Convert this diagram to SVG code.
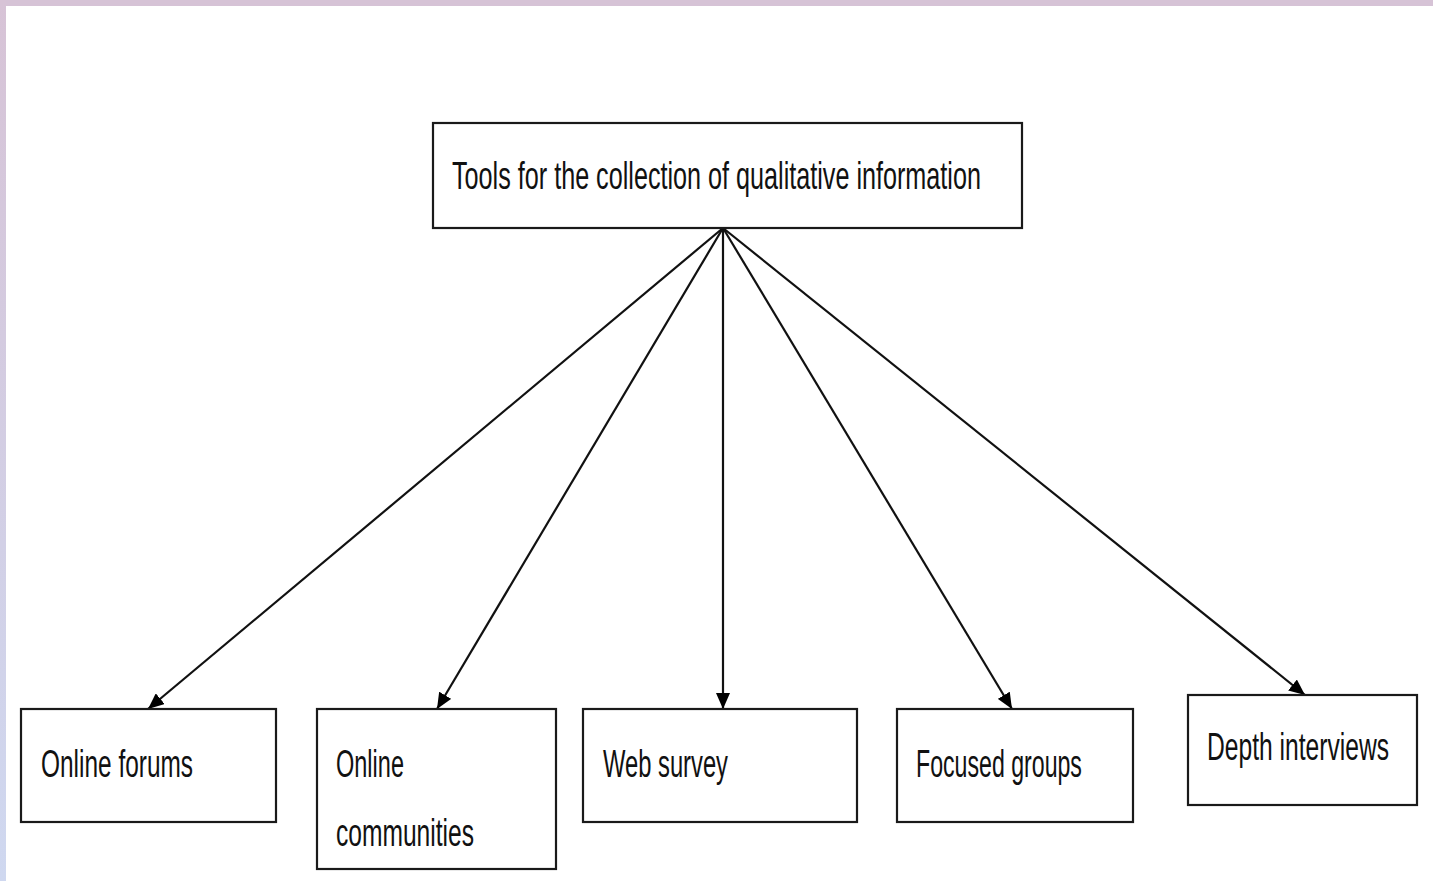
<svg xmlns="http://www.w3.org/2000/svg" width="1433" height="881" viewBox="0 0 1433 881">
<defs>
<linearGradient id="lg" x1="0" y1="0" x2="0" y2="1">
<stop offset="0" stop-color="#d7c3d6"/>
<stop offset="1" stop-color="#cfd8f0"/>
</linearGradient>
<marker id="ah" markerWidth="16" markerHeight="14" refX="16" refY="7" orient="auto" markerUnits="userSpaceOnUse" viewBox="0 0 16 14">
<path d="M0,0 L16,7 L0,14 z" fill="#000"/>
</marker>
<style>
.box{fill:#fff;stroke:#1a1a1a;stroke-width:2.2}
.t{font-family:"Liberation Sans",Arial,sans-serif;font-size:38px;fill:#111}
.c{stroke:#111;stroke-width:2.2;fill:none;marker-end:url(#ah)}
</style>
</defs>
<rect width="1433" height="881" fill="#fff"/>
<rect x="0" y="0" width="1433" height="6" fill="#d6c3d6"/>
<rect x="0" y="0" width="6" height="881" fill="url(#lg)"/>
<g id="connectors">
<line class="c" x1="723" y1="228" x2="148" y2="709"/>
<line class="c" x1="723" y1="228" x2="437" y2="709"/>
<line class="c" x1="723" y1="228" x2="723" y2="709"/>
<line class="c" x1="723" y1="228" x2="1012" y2="709"/>
<line class="c" x1="723" y1="228" x2="1305" y2="695"/>
</g>
<g id="root">
<rect class="box" x="433" y="123" width="589" height="105"/>
<text class="t" transform="translate(452,189) scale(0.653,1)" x="0" y="0" textLength="810" lengthAdjust="spacingAndGlyphs">Tools for the collection of qualitative information</text>
</g>
<g id="forums">
<rect class="box" x="21" y="709" width="255" height="113"/>
<text class="t" transform="translate(41,777) scale(0.643,1)" x="0" y="0" textLength="236.5" lengthAdjust="spacingAndGlyphs">Online forums</text>
</g>
<g id="communities">
<rect class="box" x="317" y="709" width="239" height="160"/>
<text class="t" transform="translate(336,777) scale(0.619,1)" x="0" y="0" textLength="109.8" lengthAdjust="spacingAndGlyphs">Online</text>
<text class="t" transform="translate(336,846) scale(0.647,1)" x="0" y="0" textLength="213.3" lengthAdjust="spacingAndGlyphs">communities</text>
</g>
<g id="websurvey">
<rect class="box" x="583" y="709" width="274" height="113"/>
<text class="t" transform="translate(603,777) scale(0.623,1)" x="0" y="0" textLength="200.6" lengthAdjust="spacingAndGlyphs">Web survey</text>
</g>
<g id="focused">
<rect class="box" x="897" y="709" width="236" height="113"/>
<text class="t" transform="translate(916,777) scale(0.609,1)" x="0" y="0" textLength="272.5" lengthAdjust="spacingAndGlyphs">Focused groups</text>
</g>
<g id="depth">
<rect class="box" x="1188" y="695" width="229" height="110"/>
<text class="t" transform="translate(1207,760) scale(0.648,1)" x="0" y="0" textLength="281" lengthAdjust="spacingAndGlyphs">Depth interviews</text>
</g>
</svg>
